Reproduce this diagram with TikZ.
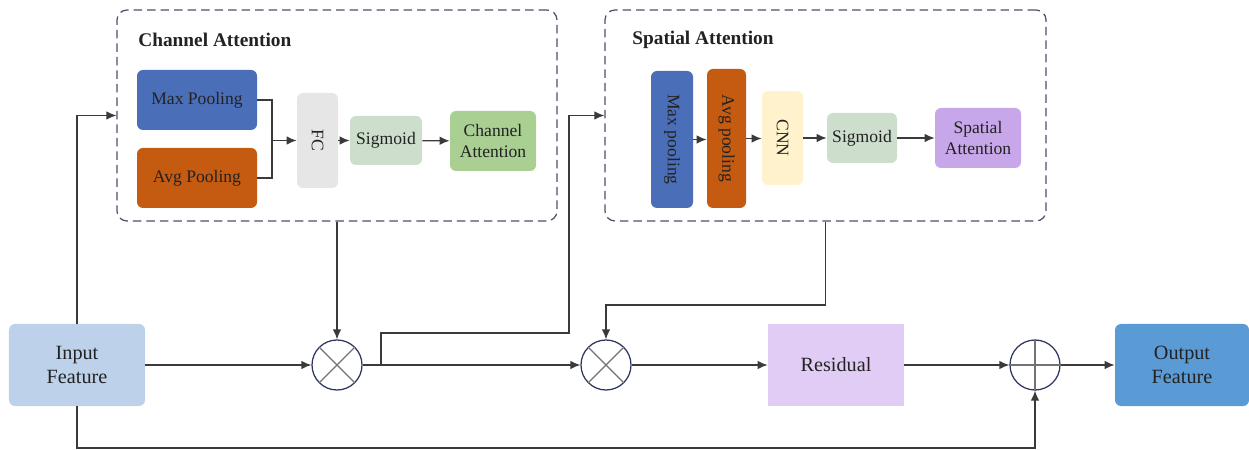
\documentclass[tikz,border=0pt]{standalone}
\usepackage{fontspec}
\setmainfont{Liberation Serif}
\usepackage{tikz}
\usetikzlibrary{arrows.meta,calc}

\definecolor{poolblue}{RGB}{74,110,184}
\definecolor{poolorange}{RGB}{197,90,17}
\definecolor{fcgray}{RGB}{230,230,230}
\definecolor{siggreen}{RGB}{205,222,205}
\definecolor{attgreen}{RGB}{169,207,147}
\definecolor{cnnyellow}{RGB}{255,242,204}
\definecolor{attpurple}{RGB}{200,166,234}
\definecolor{inblue}{RGB}{189,209,235}
\definecolor{respurple}{RGB}{225,204,245}
\definecolor{outblue}{RGB}{91,155,213}
\definecolor{dashgray}{RGB}{75,79,107}
\definecolor{linegray}{RGB}{58,58,58}
\definecolor{opnavy}{RGB}{46,54,96}
\definecolor{txtdark}{RGB}{34,34,34}

\begin{document}
\begin{tikzpicture}[
  x=0.2mm,
  y=-0.2mm
]

  \tikzstyle{block}=[rectangle,rounded corners=1.2mm,inner sep=0.5mm,text=txtdark,align=center,font=\fontsize{10}{12}\selectfont]
  \tikzstyle{bigblock}=[block,minimum width=27.2mm,minimum height=16.4mm,font=\fontsize{11.5}{14}\selectfont]
  \tikzstyle{group}=[draw=dashgray,dashed,dash pattern=on 1.7mm off 1mm,line width=0.25mm,rounded corners=2mm,minimum width=88mm,minimum height=42.2mm]
  \tikzstyle{grouptitle}=[anchor=west,font=\fontsize{11}{13}\selectfont\bfseries,text=txtdark,inner sep=0pt]
  \tikzstyle{opnode}=[draw=opnavy,circle,line width=0.25mm,minimum size=10mm,inner sep=0pt,fill=white]
  \tikzstyle{opline}=[draw=gray!90!black,line width=0.25mm]
  \tikzstyle{pointer}=[draw=linegray,line width=0.26mm,-{Latex[length=2mm,width=1.7mm]}]
  \tikzstyle{wire}=[draw=linegray,line width=0.26mm]

  \useasboundingbox (0,0) rectangle (1249,450);

  % groups
  \node[group] (cabox) at (337,115.5) {};
  \node[group,minimum width=88.2mm] (sabox) at (825.5,115.5) {};
  \node[grouptitle] (catitle) at (138,40) {Channel Attention};
  \node[grouptitle] (satitle) at (632,40) {Spatial Attention};

  % channel attention nodes
  \node[block,fill=poolblue,minimum width=24mm,minimum height=12mm] (camax) at (197,100) {Max Pooling};
  \node[block,fill=poolorange,minimum width=24mm,minimum height=12mm] (caavg) at (197,178) {Avg Pooling};
  \node[block,fill=fcgray,minimum width=8.2mm,minimum height=19mm] (cafc) at (317.5,140.5) {\rotatebox{-90}{FC}};
  \node[block,fill=siggreen,minimum width=14.4mm,minimum height=9.8mm] (casig) at (386,140.5) {Sigmoid};
  \node[block,fill=attgreen,minimum width=17.2mm,minimum height=12mm] (caout) at (493,141) {Channel\\Attention};
  \coordinate (cajoin) at (272,140.5);

  % spatial attention nodes
  \node[block,fill=poolblue,minimum width=8.4mm,minimum height=27.4mm] (samax) at (672,139.5) {\rotatebox{-90}{Max pooling}};
  \node[block,fill=poolorange,minimum width=7.8mm,minimum height=27.8mm] (saavg) at (726.5,138.5) {\rotatebox{-90}{Avg pooling}};
  \node[block,fill=cnnyellow,minimum width=8.2mm,minimum height=18.8mm] (sacnn) at (782.5,138) {\rotatebox{-90}{CNN}};
  \node[block,fill=siggreen,minimum width=14mm,minimum height=10mm] (sasig) at (862,138) {Sigmoid};
  \node[block,fill=attpurple,minimum width=17.2mm,minimum height=12mm] (saout) at (978,138) {Spatial\\Attention};

  % main path nodes
  \node[bigblock,fill=inblue] (input) at (77,365) {Input\\Feature};
  \node[opnode] (mult1) at (337,365) {};
  \node[opnode] (mult2) at (606,365) {};
  \node[bigblock,fill=respurple,rounded corners=0pt] (resid) at (836,365) {Residual};
  \node[opnode] (plus) at (1035,365) {};
  \node[bigblock,fill=outblue,minimum width=26.8mm] (output) at (1182,365) {Output\\Feature};

  \coordinate (branch) at (381,365);
  \coordinate (b1) at (381,333);
  \coordinate (b2) at (569,333);
  \coordinate (turn2) at (606,305);
  \coordinate (bot) at (77,448);

  % operator signs
  \draw[opline] (mult1.north west) -- (mult1.south east);
  \draw[opline] (mult1.north east) -- (mult1.south west);
  \draw[opline] (mult2.north west) -- (mult2.south east);
  \draw[opline] (mult2.north east) -- (mult2.south west);
  \draw[opline] (plus.north) -- (plus.south);
  \draw[opline] (plus.west) -- (plus.east);

  % pointers inside channel attention
  \draw[wire] (camax.east) -| (cajoin);
  \draw[wire] (caavg.east) -| (cajoin);
  \draw[pointer] (cajoin) -- (cafc);
  \draw[pointer] (cafc) -- (casig);
  \draw[pointer] (casig) -- (caout);

  % pointers inside spatial attention
  \draw[pointer] (samax) -- (samax -| saavg.west);
  \draw[pointer] (saavg) -- (saavg -| sacnn.west);
  \draw[pointer] (sacnn) -- (sasig);
  \draw[pointer] (sasig) -- (saout);

  % main pointers
  \draw[pointer] (input.north) |- (cabox.west);
  \draw[pointer] (input) -- (mult1);
  \draw[pointer] (cabox.south) -- (mult1.north);
  \draw[pointer] (mult1) -- (mult2);
  \draw[pointer] (branch) -- (b1) -- (b2) |- (sabox.west);
  \draw[pointer] (sabox.south) |- (turn2) -- (mult2.north);
  \draw[pointer] (mult2) -- (resid);
  \draw[pointer] (resid) -- (plus);
  \draw[pointer] (plus) -- (output);
  \draw[pointer] (input.south) -- (bot) -| (plus.south);

\end{tikzpicture}
\end{document}
